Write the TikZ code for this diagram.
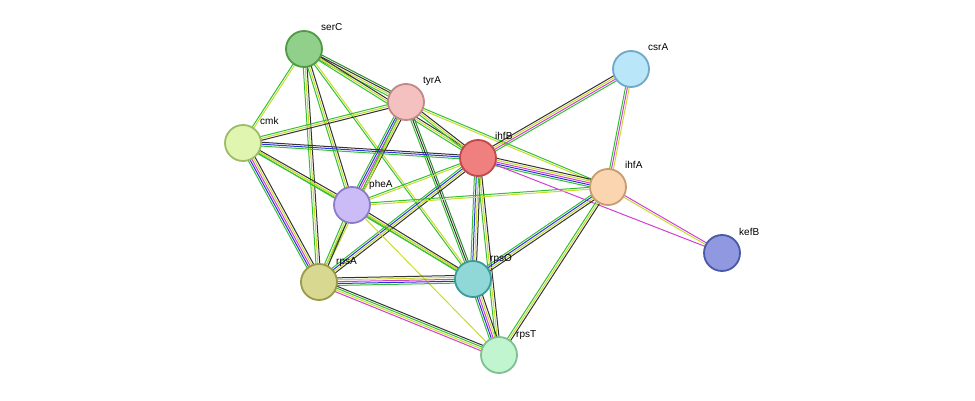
\documentclass[tikz,border=0pt]{standalone}
\usepackage{fontspec}
\setmainfont{Liberation Sans}
\usetikzlibrary{calc}
\definecolor{eg}{HTML}{33C033}
\definecolor{ey}{HTML}{C8DC30}
\definecolor{em}{HTML}{D040D0}
\definecolor{eb}{HTML}{3030E0}
\definecolor{ek}{HTML}{333333}
\definecolor{et}{HTML}{2E8B2E}
\newcommand\ed[4]{\foreach \c [count=\i] in {#4}{\draw[\c, line width=1pt] ($(#1)!{((\i-1)-(#3-1)/2)*1.9pt}!90:(#2)$) -- ($(#2)!{((\i-1)-(#3-1)/2)*1.9pt}!-90:(#1)$);}}
\tikzset{prot/.style={circle,minimum size=36pt,line width=1.8pt,inner sep=0pt},
lab/.style={font=\fontsize{10}{12}\selectfont,anchor=base west,inner sep=0pt}}
\begin{document}
\begin{tikzpicture}[x=1pt,y=-1pt]
\useasboundingbox (0,0) rectangle (975,401);
\coordinate (serC) at (304,49);
\coordinate (tyrA) at (406,102);
\coordinate (csrA) at (631,69);
\coordinate (cmk) at (243,143);
\coordinate (ihfB) at (478,158);
\coordinate (ihfA) at (608,187);
\coordinate (pheA) at (352,205);
\coordinate (kefB) at (722,253);
\coordinate (rpsA) at (319,282);
\coordinate (rpsO) at (473,279);
\coordinate (rpsT) at (499,355);
% edges
\ed{serC}{tyrA}{4}{eg,ey,ek,et}
\ed{serC}{cmk}{2}{eg,ey}
\ed{serC}{pheA}{3}{eg,ey,ek}
\ed{serC}{rpsA}{3}{eg,ey,ek}
\ed{serC}{ihfB}{3}{eg,ey,ek}
\ed{serC}{rpsO}{2}{eg,ey}
\ed{tyrA}{cmk}{3}{eg,ey,ek}
\ed{tyrA}{pheA}{5}{eg,eb,em,ey,ek}
\ed{tyrA}{ihfB}{3}{eg,ey,ek}
\ed{tyrA}{rpsA}{2}{eg,ey}
\ed{tyrA}{rpsO}{3}{eg,ek,et}
\ed{tyrA}{ihfA}{2}{ey,eg}
\ed{cmk}{ihfB}{3}{eg,eb,ek}
\ed{cmk}{pheA}{3}{eg,ey,ek}
\ed{cmk}{rpsA}{5}{eg,eb,em,ey,ek}
\ed{cmk}{rpsO}{2}{eg,ey}
\ed{ihfB}{csrA}{4}{eg,em,ey,ek}
\ed{ihfB}{ihfA}{5}{eg,eb,em,ey,ek}
\ed{ihfB}{kefB}{1}{em}
\ed{ihfB}{pheA}{2}{eg,ey}
\ed{ihfB}{rpsA}{4}{eg,eb,ey,ek}
\ed{ihfB}{rpsO}{4}{eg,eb,ey,ek}
\ed{ihfB}{rpsT}{3}{eg,ey,ek}
\ed{csrA}{ihfA}{3}{eg,em,ey}
\ed{ihfA}{kefB}{2}{ey,em}
\ed{ihfA}{pheA}{2}{eg,ey}
\ed{ihfA}{rpsO}{4}{eg,eb,ey,ek}
\ed{ihfA}{rpsT}{3}{eg,ey,ek}
\ed{pheA}{rpsA}{3}{eg,ey,ek}
\ed{pheA}{rpsO}{3}{eg,ey,ek}
\ed{pheA}{rpsT}{1}{ey}
\ed{rpsA}{rpsO}{5}{eg,eb,em,ey,ek}
\ed{rpsA}{rpsT}{4}{em,ey,eg,ek}
\ed{rpsO}{rpsT}{5}{eg,eb,em,ey,ek}
% nodes
\node[prot,fill={rgb,255:red,144;green,208;blue,138},draw={rgb,255:red,79;green,154;blue,68}] (nserC) at (serC) {};
\node[prot,fill={rgb,255:red,245;green,192;blue,192},draw={rgb,255:red,192;green,136;blue,136}] (ntyrA) at (tyrA) {};
\node[prot,fill={rgb,255:red,185;green,230;blue,248},draw={rgb,255:red,111;green,168;blue,200}] (ncsrA) at (csrA) {};
\node[prot,fill={rgb,255:red,223;green,245;blue,176},draw={rgb,255:red,156;green,188;blue,106}] (ncmk) at (cmk) {};
\node[prot,fill={rgb,255:red,240;green,128;blue,128},draw={rgb,255:red,192;green,72;blue,72}] (nihfB) at (ihfB) {};
\node[prot,fill={rgb,255:red,251;green,213;blue,176},draw={rgb,255:red,200;green,156;blue,112}] (nihfA) at (ihfA) {};
\node[prot,fill={rgb,255:red,203;green,188;blue,248},draw={rgb,255:red,140;green,124;blue,200}] (npheA) at (pheA) {};
\node[prot,fill={rgb,255:red,144;green,152;blue,224},draw={rgb,255:red,74;green,88;blue,168}] (nkefB) at (kefB) {};
\node[prot,fill={rgb,255:red,216;green,216;blue,144},draw={rgb,255:red,154;green,154;blue,72}] (nrpsA) at (rpsA) {};
\node[prot,fill={rgb,255:red,144;green,216;blue,216},draw={rgb,255:red,61;green,154;blue,154}] (nrpsO) at (rpsO) {};
\node[prot,fill={rgb,255:red,192;green,245;blue,208},draw={rgb,255:red,128;green,192;blue,144}] (nrpsT) at (rpsT) {};
% labels
\node[lab] (lserC) at ($(serC)+(17,-18)$) {serC};
\node[lab] (ltyrA) at ($(tyrA)+(17,-18)$) {tyrA};
\node[lab] (lcsrA) at ($(csrA)+(17,-18)$) {csrA};
\node[lab] (lcmk) at ($(cmk)+(17,-18)$) {cmk};
\node[lab] (lihfB) at ($(ihfB)+(17,-18)$) {ihfB};
\node[lab] (lihfA) at ($(ihfA)+(17,-18)$) {ihfA};
\node[lab] (lpheA) at ($(pheA)+(17,-18)$) {pheA};
\node[lab] (lkefB) at ($(kefB)+(17,-18)$) {kefB};
\node[lab] (lrpsA) at ($(rpsA)+(17,-18)$) {rpsA};
\node[lab] (lrpsO) at ($(rpsO)+(17,-18)$) {rpsO};
\node[lab] (lrpsT) at ($(rpsT)+(17,-18)$) {rpsT};
\end{tikzpicture}
\end{document}
